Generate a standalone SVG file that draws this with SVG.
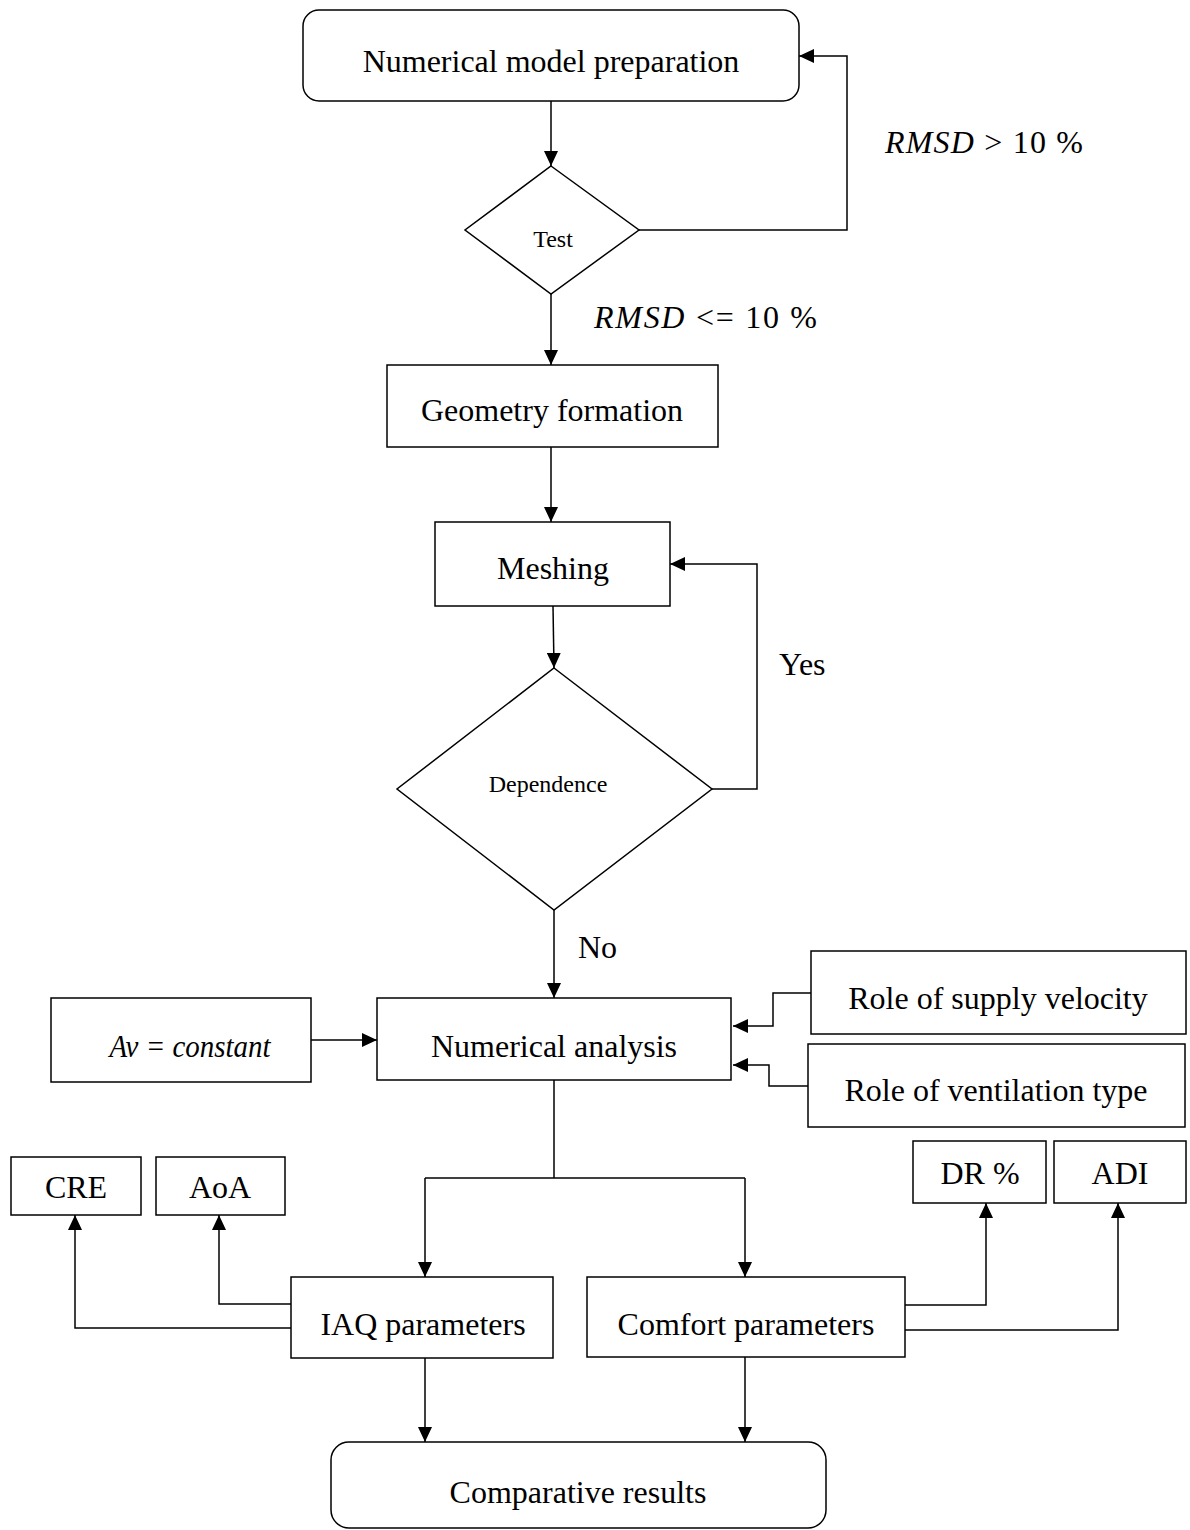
<svg xmlns="http://www.w3.org/2000/svg" width="1190" height="1530" viewBox="0 0 1190 1530">
<defs>
<marker id="ah" markerUnits="userSpaceOnUse" markerWidth="15" markerHeight="14" viewBox="0 0 15 14" refX="15" refY="7" orient="auto">
<path d="M0,0 L15,7 L0,14 Z" fill="#000"/>
</marker>
</defs>
<style>
.box{fill:#fff;stroke:#000;stroke-width:1.5}
.t{font-family:"Liberation Serif","Times New Roman",serif;font-size:32px;fill:#000;text-anchor:middle}
.s{font-family:"Liberation Serif","Times New Roman",serif;font-size:24px;fill:#000;text-anchor:middle}
.m{font-family:"Liberation Serif","Times New Roman",serif;font-size:32px;fill:#000}
.c{fill:none;stroke:#000;stroke-width:1.5}
</style>
<rect width="1190" height="1530" fill="#fff"/>
<g id="connectors">
<path class="c" d="M551,101 V166" marker-end="url(#ah)"/>
<path class="c" d="M639,230 H847 V56 H799" marker-end="url(#ah)"/>
<path class="c" d="M551,294 V365" marker-end="url(#ah)"/>
<path class="c" d="M551,447 V522" marker-end="url(#ah)"/>
<path class="c" d="M553,606 L554,668" marker-end="url(#ah)"/>
<path class="c" d="M712,789 H757 V564 H670" marker-end="url(#ah)"/>
<path class="c" d="M554,910 V998" marker-end="url(#ah)"/>
<path class="c" d="M311,1040 H377" marker-end="url(#ah)"/>
<path class="c" d="M811,993 H773 V1026 H733" marker-end="url(#ah)"/>
<path class="c" d="M808,1086 H769 V1065 H733" marker-end="url(#ah)"/>
<path class="c" d="M554,1080 V1178"/>
<path class="c" d="M425,1178 H745"/>
<path class="c" d="M425,1178 V1277" marker-end="url(#ah)"/>
<path class="c" d="M745,1178 V1277" marker-end="url(#ah)"/>
<path class="c" d="M291,1304 H219 V1215" marker-end="url(#ah)"/>
<path class="c" d="M291,1328 H75 V1215" marker-end="url(#ah)"/>
<path class="c" d="M905,1305 H986 V1203" marker-end="url(#ah)"/>
<path class="c" d="M905,1330 H1118 V1203" marker-end="url(#ah)"/>
<path class="c" d="M425,1358 V1442" marker-end="url(#ah)"/>
<path class="c" d="M745,1357 V1442" marker-end="url(#ah)"/>
</g>
<g id="labels">
<text class="m" x="885" y="153" textLength="198" lengthAdjust="spacing"><tspan font-style="italic">RMSD</tspan> &gt; 10 %</text>
<text class="m" x="594" y="328" textLength="223" lengthAdjust="spacing"><tspan font-style="italic">RMSD</tspan> &lt;= 10 %</text>
<text class="m" x="779" y="675">Yes</text>
<text class="m" x="578" y="958">No</text>
</g>
<g id="n-prep">
<rect class="box" x="303" y="10" width="496" height="91" rx="16"/>
<text class="t" x="551" y="72">Numerical model preparation</text>
</g>
<g id="n-test">
<polygon class="box" points="551,166 639,230 551,294 465,230"/>
<text class="s" x="553" y="247" font-size="21">Test</text>
</g>
<g id="n-geom">
<rect class="box" x="387" y="365" width="331" height="82"/>
<text class="t" x="552" y="421">Geometry formation</text>
</g>
<g id="n-mesh">
<rect class="box" x="435" y="522" width="235" height="84"/>
<text class="t" x="553" y="579">Meshing</text>
</g>
<g id="n-dep">
<polygon class="box" points="554,668 712,789 554,910 397,789"/>
<text class="s" x="548" y="792" font-size="19">Dependence</text>
</g>
<g id="n-num">
<rect class="box" x="377" y="998" width="354" height="82"/>
<text class="t" x="554" y="1057">Numerical analysis</text>
</g>
<g id="n-av">
<rect class="box" x="51" y="998" width="260" height="84"/>
<text class="t" x="190" y="1057" font-style="italic" textLength="161" lengthAdjust="spacingAndGlyphs" text-anchor="middle">Av = constant</text>
</g>
<g id="n-supply">
<rect class="box" x="811" y="951" width="375" height="83"/>
<text class="t" x="998" y="1009">Role of supply velocity</text>
</g>
<g id="n-vent">
<rect class="box" x="808" y="1044" width="377" height="83"/>
<text class="t" x="996" y="1101">Role of ventilation type</text>
</g>
<g id="n-cre">
<rect class="box" x="11" y="1157" width="130" height="58"/>
<text class="t" x="76" y="1198">CRE</text>
</g>
<g id="n-aoa">
<rect class="box" x="156" y="1157" width="129" height="58"/>
<text class="t" x="220" y="1198">AoA</text>
</g>
<g id="n-dr">
<rect class="box" x="913" y="1141" width="133" height="62"/>
<text class="t" x="980" y="1184">DR %</text>
</g>
<g id="n-adi">
<rect class="box" x="1054" y="1141" width="132" height="62"/>
<text class="t" x="1120" y="1184">ADI</text>
</g>
<g id="n-iaq">
<rect class="box" x="291" y="1277" width="262" height="81"/>
<text class="t" x="423" y="1335">IAQ parameters</text>
</g>
<g id="n-comfort">
<rect class="box" x="587" y="1277" width="318" height="80"/>
<text class="t" x="746" y="1335">Comfort parameters</text>
</g>
<g id="n-comp">
<rect class="box" x="331" y="1442" width="495" height="86" rx="18"/>
<text class="t" x="578" y="1503">Comparative results</text>
</g>
</svg>
